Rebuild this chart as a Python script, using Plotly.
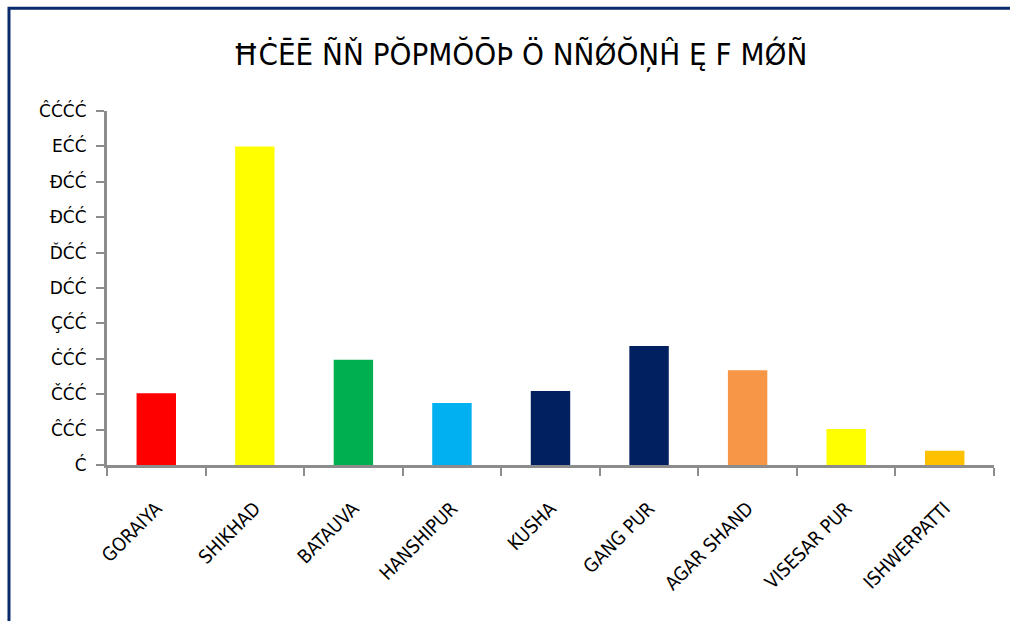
import plotly.graph_objects as go

villages = ["GORAIYA", "SHIKHAD", "BATAUVA", "HANSHIPUR", "KUSHA",
            "GANGPUR", "AGARSHAND", "VISESARPUR", "ISHWERPATTI"]
village_labels = ["GORAIYA", "SHIKHAD", "BATAUVA", "HANSHIPUR", "KUSHA",
                  "GANG PUR", "AGAR SHAND", "VISESAR PUR", "ISHWERPATTI"]
values = [203, 900, 297, 175, 209, 336, 268, 102, 40]
bar_colors = ["#FF0000", "#FFFF00", "#00B050", "#00B0F0", "#002060",
              "#002060", "#F79646", "#FFFF00", "#FFC000"]

tick_vals = [0, 100, 200, 300, 400, 500, 600, 700, 800, 900, 1000]
tick_text = ["Ć", "ĈĆĆ", "ČĆĆ", "ĊĆĆ", "ÇĆĆ", "DĆĆ", "ĎĆĆ", "ĐĆĆ", "ĐĆĆ", "EĆĆ", "ĈĆĆĆ"]

title_text = "ĦĊĒĒ ÑŇ PŎPMŎŌÞ Ö NÑǾŎŅĤ Ę F MǾÑ"

fig = go.Figure()
fig.add_trace(go.Bar(
    x=villages,
    y=values,
    marker=dict(color=bar_colors, line=dict(width=0)),
    width=0.4,
    showlegend=False,
))

fig.update_layout(
    width=1010,
    height=621,
    margin=dict(l=107, r=16, t=111, b=156),
    paper_bgcolor="white",
    plot_bgcolor="white",
    font=dict(family="DejaVu Sans", color="black"),
    title=dict(
        text=title_text,
        x=0.515, xanchor="center",
        y=0.912, yanchor="middle",
        font=dict(family="DejaVu Sans Condensed", size=31, color="black"),
    ),
    shapes=[dict(
        type="rect", xref="paper", yref="paper",
        x0=-0.1105, x1=1.2, y0=-0.5, y1=1.29,
        line=dict(color="#0B2A6B", width=3),
        fillcolor="rgba(0,0,0,0)",
        layer="below",
    )],
)

fig.update_xaxes(
    tickmode="array",
    tickvals=villages,
    ticktext=village_labels,
    tickangle=-45,
    tickson="boundaries",
    ticks="outside",
    ticklen=8,
    tickwidth=2,
    tickcolor="#8C8C8C",
    showline=True,
    linecolor="#8C8C8C",
    linewidth=3,
    showgrid=False,
    tickfont=dict(family="DejaVu Sans Condensed", size=19, color="black"),
    ticklabelstandoff=22,
)

fig.update_yaxes(
    range=[0, 1000],
    tickmode="array",
    tickvals=tick_vals,
    ticktext=tick_text,
    ticks="outside",
    ticklen=8,
    tickwidth=2,
    tickcolor="#8C8C8C",
    showline=True,
    linecolor="#8C8C8C",
    linewidth=3,
    showgrid=False,
    zeroline=False,
    tickfont=dict(family="DejaVu Sans", size=17, color="black"),
    ticklabelstandoff=6,
)

fig.write_html("out.html")
